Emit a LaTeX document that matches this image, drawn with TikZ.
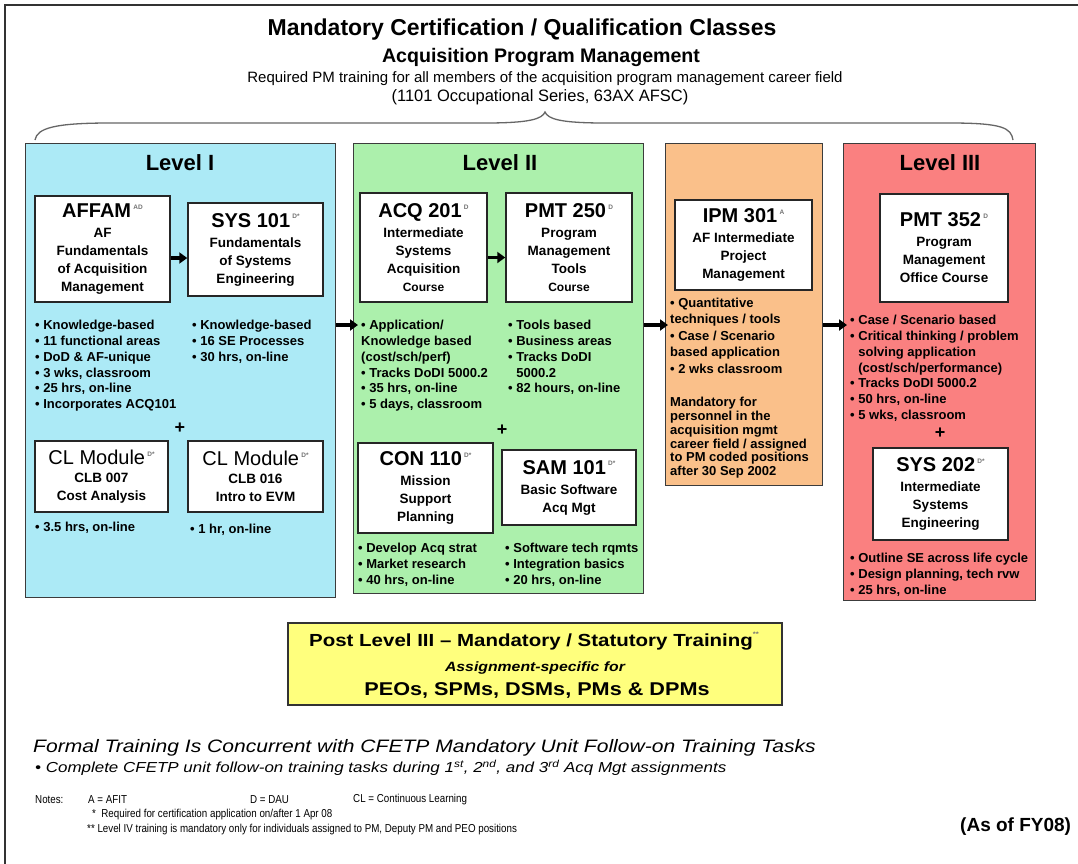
\documentclass[tikz,border=0pt]{standalone}
\usepackage{fontspec}
\setmainfont{Liberation Sans}
\newfontfamily\narrowf[FakeStretch=0.85]{Liberation Sans}
\newfontfamily\widef[FakeStretch=1.17]{Liberation Sans}
\usetikzlibrary{arrows.meta}
\definecolor{cyanfill}{RGB}{172,234,246}
\definecolor{greenfill}{RGB}{172,240,172}
\definecolor{orangefill}{RGB}{250,192,138}
\definecolor{redfill}{RGB}{250,128,128}
\definecolor{yellowfill}{RGB}{255,255,125}
\definecolor{edge}{RGB}{60,60,60}
\newcommand{\sups}[1]{\raisebox{0.6em}{\fontsize{6.5}{6.5}\selectfont\color{black!55}#1}}
\newcommand{\ttl}[2]{{\fontsize{20}{20}\selectfont #1}\,\sups{#2}}
\newcommand{\bu}{\textbullet\ }
\begin{document}
\begin{tikzpicture}[x=1pt,y=-1pt,
  lvl/.style={draw=edge, line width=1.3pt, anchor=north west, inner sep=0pt},
  cbox/.style={draw=black!85, line width=1.5pt, fill=white, align=center, inner sep=0pt, font=\bfseries\fontsize{13.5}{18}\selectfont},
  bul/.style={anchor=north west, align=left, inner sep=0pt, font=\bfseries\fontsize{13}{15.8}\selectfont},
  lvlhead/.style={font=\bfseries\fontsize{22}{22}\selectfont},
  flow/.style={line width=3.5pt, -{Triangle[length=8pt,width=11pt]}},
  plus/.style={font=\bfseries\fontsize{18}{18}\selectfont, inner sep=0pt},
  note/.style={anchor=west, inner sep=0pt, font=\narrowf\fontsize{11.5}{11.5}\selectfont}
]
\useasboundingbox (0,0) rectangle (1078,863);
\fill[white] (0,0) rectangle (1078,863);
\draw[line width=1.2pt, black!80] (5,880) -- (5,5) -- (1090,5);

% titles
\node[font=\bfseries\fontsize{23}{23}\selectfont] (title) at (522,30) {Mandatory Certification / Qualification Classes};
\node[font=\bfseries\fontsize{19.6}{19.6}\selectfont] (sub) at (541,57) {Acquisition Program Management};
\node[font=\fontsize{15}{15}\selectfont] (req) at (545,79) {Required PM training for all members of the acquisition program management career field};
\node[font=\fontsize{16.5}{16.5}\selectfont] (occ) at (540,97) {(1101 Occupational Series, 63AX AFSC)};

% brace
\draw[black!60, line width=1.3pt] (35,140) .. controls (37,128) and (55,123) .. (110,123) -- (485,123) .. controls (530,123) and (542,119) .. (545,112) .. controls (548,119) and (560,123) .. (605,123) -- (950,123) .. controls (1003,123) and (1011,128) .. (1013,140);

% level boxes
\node[lvl, fill=cyanfill, minimum width=310pt, minimum height=454pt] (L1) at (25,143) {};
\node[lvl, fill=greenfill, minimum width=290pt, minimum height=450pt] (L2) at (353,143) {};
\node[lvl, fill=orangefill, minimum width=157pt, minimum height=342pt] (L3a) at (665,143) {};
\node[lvl, fill=redfill, minimum width=192pt, minimum height=457pt] (L3) at (843,143) {};

\node[lvlhead] (h1) at (180,163) {Level I};
\node[lvlhead] (h2) at (500,163) {Level II};
\node[lvlhead] (h3) at (940,163) {Level III};

% Level I
\node[cbox, minimum width=135pt, minimum height=106pt] (affam) at (102.5,249) {\ttl{AFFAM}{AD}\\[2pt] AF\\ Fundamentals\\ of Acquisition\\ Management};
\node[cbox, minimum width=135pt, minimum height=93pt] (sys101) at (255.5,249.5) {\ttl{SYS 101}{D*}\\[2pt] Fundamentals\\ of Systems\\ Engineering};
\node[bul] (b1a) at (35,320) {\bu Knowledge-based\\ \bu 11 functional areas\\ \bu DoD \& AF-unique\\ \bu 3 wks, classroom\\ \bu 25 hrs, on-line\\ \bu Incorporates ACQ101};
\node[bul] (b1b) at (192,320) {\bu Knowledge-based\\ \bu 16 SE Processes\\ \bu 30 hrs, on-line};
\node[plus] (p1) at (180,428) {+};
\node[cbox, minimum width=133pt, minimum height=71pt] (clb7) at (101.5,476.5) {{\mdseries\fontsize{20}{20}\selectfont CL Module}\,\sups{D*}\\ CLB 007\\ Cost Analysis};
\node[cbox, minimum width=135pt, minimum height=71pt] (clb16) at (255.5,476.5) {{\mdseries\fontsize{20}{20}\selectfont CL Module}\,\sups{D*}\\ CLB 016\\ Intro to EVM};
\node[bul] (b1c) at (35,522) {\bu 3.5 hrs, on-line};
\node[bul] (b1d) at (190,524) {\bu 1 hr, on-line};

% Level II
\node[cbox, minimum width=127pt, minimum height=109pt] (acq201) at (423.5,247.5) {\ttl{ACQ 201}{D}\\[2pt] Intermediate\\ Systems\\ Acquisition\\ {\fontsize{12}{12}\selectfont Course}};
\node[cbox, minimum width=126pt, minimum height=109pt] (pmt250) at (569,247.5) {\ttl{PMT 250}{D}\\[2pt] Program\\ Management\\ Tools\\ {\fontsize{12}{12}\selectfont Course}};
\node[bul] (b2a) at (361,320) {\bu Application/\\ Knowledge based\\ (cost/sch/perf)\\ \bu Tracks DoDI 5000.2\\ \bu 35 hrs, on-line\\ \bu 5 days, classroom};
\node[bul] (b2b) at (508,320) {\bu Tools based\\ \bu Business areas\\ \bu Tracks DoDI\\ \phantom{\bu}5000.2\\ \bu 82 hours, on-line};
\node[plus] (p2) at (502,430) {+};
\node[cbox, minimum width=135pt, minimum height=90pt] (con110) at (425.5,488) {\ttl{CON 110}{D*}\\[2pt] Mission\\ Support\\ Planning};
\node[cbox, minimum width=134pt, minimum height=75pt] (sam101) at (569,487.5) {\ttl{SAM 101}{D*}\\[2pt] Basic Software\\ Acq Mgt};
\node[bul] (b2c) at (358,543) {\bu Develop Acq strat\\ \bu Market research\\ \bu 40 hrs, on-line};
\node[bul] (b2d) at (505,543) {\bu Software tech rqmts\\ \bu Integration basics\\ \bu 20 hrs, on-line};

% IPM
\node[cbox, minimum width=137pt, minimum height=90pt] (ipm301) at (743.5,245) {\ttl{IPM 301}{A}\\[2pt] AF Intermediate\\ Project\\ Management};
\node[bul, font=\bfseries\fontsize{13}{15.5}\selectfont] (b3a) at (670,298) {\bu Quantitative\\ techniques / tools\\[2pt] \bu Case / Scenario\\ based application\\[2pt] \bu 2 wks classroom};
\node[bul, font=\bfseries\fontsize{13}{13.8}\selectfont] (b3b) at (670,397) {Mandatory for\\ personnel in the\\ acquisition mgmt\\ career field / assigned\\ to PM coded positions\\ after 30 Sep 2002};

% Level III
\node[cbox, minimum width=128pt, minimum height=108pt] (pmt352) at (944,248) {\ttl{PMT 352}{D}\\[2pt] Program\\ Management\\ Office Course};
\node[bul] (b4a) at (850,315) {\bu Case / Scenario based\\ \bu Critical thinking / problem\\ \phantom{\bu}solving application\\ \phantom{\bu}(cost/sch/performance)\\ \bu Tracks DoDI 5000.2\\ \bu 50 hrs, on-line\\ \bu 5 wks, classroom};
\node[plus] (p3) at (940,433) {+};
\node[cbox, minimum width=135pt, minimum height=92pt] (sys202) at (940.5,494) {\ttl{SYS 202}{D*}\\[2pt] Intermediate\\ Systems\\ Engineering};
\node[bul] (b4b) at (850,553) {\bu Outline SE across life cycle\\ \bu Design planning, tech rvw\\ \bu 25 hrs, on-line};

% arrows
\coordinate (ay) at (0,325);
\draw[flow] ([yshift=-9pt]affam.east) -- ([yshift=-9pt]affam.east -| sys101.west);
\draw[flow] ([yshift=-10pt]acq201.east) -- ([yshift=-10pt]acq201.east -| pmt250.west);
\draw[flow, shorten >=-5pt] (L1.east |- ay) -- (L2.west |- ay);
\draw[flow, shorten >=-3pt] (L2.east |- ay) -- (L3a.west |- ay);
\draw[flow, shorten >=-4pt] (L3a.east |- ay) -- (L3.west |- ay);

% post level box
\node[draw=black!80, line width=1.5pt, fill=yellowfill, minimum width=494pt, minimum height=82pt, inner sep=0pt] (post) at (535,664) {};
\node[font=\widef\bfseries\fontsize{17.5}{17.5}\selectfont] (postt) at (534,641) {Post Level III – Mandatory / Statutory Training\sups{**}};
\node[font=\widef\bfseries\itshape\fontsize{13.5}{13.5}\selectfont] (posta) at (535,668) {Assignment-specific for};
\node[font=\widef\bfseries\fontsize{18.5}{18.5}\selectfont] (postb) at (537,690) {PEOs, SPMs, DSMs, PMs \& DPMs};

% bottom text
\node[anchor=west, inner sep=0pt, font=\widef\itshape\fontsize{18}{18}\selectfont] (formal) at (33,748) {Formal Training Is Concurrent with CFETP Mandatory Unit Follow-on Training Tasks};
\node[anchor=west, inner sep=0pt, font=\widef\itshape\fontsize{14.5}{14.5}\selectfont] (compl) at (35,768) {\textbullet\ Complete CFETP unit follow-on training tasks during 1\textsuperscript{st}, 2\textsuperscript{nd}, and 3\textsuperscript{rd} Acq Mgt assignments};
\node[note] (notes) at (35,800) {Notes:};
\node[note] (afit) at (88,800) {A = AFIT};
\node[note] (dau) at (250,800) {D = DAU};
\node[note] (cl) at (353,800) {CL = Continuous Learning};
\node[note] (n1) at (92,815) {*\ \ Required for certification application on/after 1 Apr 08};
\node[note] (n2) at (87,830) {**\ Level IV training is mandatory only for individuals assigned to PM, Deputy PM and PEO positions};
\node[anchor=west, inner sep=0pt, font=\bfseries\fontsize{19}{19}\selectfont] (asof) at (960,827) {(As of FY08)};
\end{tikzpicture}
\end{document}
